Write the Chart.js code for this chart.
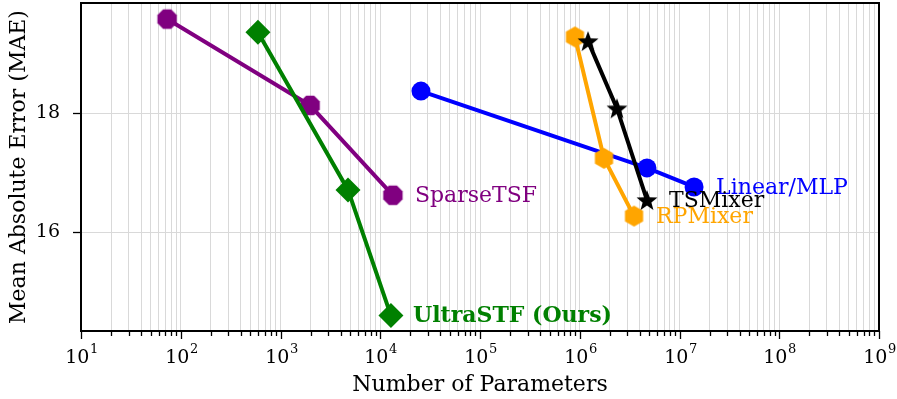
<!DOCTYPE html>
<html>
<head>
<meta charset="utf-8">
<script src="https://cdn.jsdelivr.net/npm/chart.js@4.4.0/dist/chart.umd.min.js"></script>
<style>
html, body { margin: 0; padding: 0; background: #fff; }
#wrap { width: 897px; height: 399px; }
</style>
</head>
<body>
<div id="wrap"><canvas id="chart"></canvas></div>
<script>
// values (x = number of parameters, y = MAE)
var sparseParams = [73, 1980, 13400];
var sparseMae = [19.58, 18.13, 16.62];
var ultraParams = [594, 4750, 12800];
var ultraMae = [19.36, 16.71, 14.60];
var linearParams = [25600, 4.72e6, 1.40e7];
var linearMae = [18.37, 17.08, 16.76];
var rpParams = [8.95e5, 1.75e6, 3.5e6];
var rpMae = [19.28, 17.24, 16.27];
var tsParams = [1.21e6, 2.36e6, 4.72e6];
var tsMae = [19.21, 18.08, 16.54];

var seriesNames = ['SparseTSF', 'UltraSTF (Ours)', 'Linear/MLP', 'RPMixer', 'TSMixer'];
var xTickExps = [1, 2, 3, 4, 5, 6, 7, 8, 9];
var yTicks = [16, 18];

var FONT = "'DejaVu Serif', serif";

function toPoints(xs, ys) {
    return xs.map(function(x, i) { return { x: x, y: ys[i] }; });
}

// polygon markers drawn on a small canvas
function polyMarker(sides, r, color, startAngle) {
    var c = document.createElement('canvas');
    c.width = c.height = Math.ceil(r * 2 + 2);
    var g = c.getContext('2d');
    var cx = c.width / 2;
    g.beginPath();
    for (var k = 0; k < sides; k++) {
        var a = startAngle + k * 2 * Math.PI / sides;
        g.lineTo(cx + r * Math.cos(a), cx + r * Math.sin(a));
    }
    g.closePath();
    g.fillStyle = color;
    g.fill();
    return c;
}

function starMarker(r, color) {
    var c = document.createElement('canvas');
    c.width = c.height = Math.ceil(r * 2 + 2);
    var g = c.getContext('2d');
    var cx = c.width / 2;
    g.beginPath();
    for (var k = 0; k < 10; k++) {
        var a = -Math.PI / 2 + k * Math.PI / 5;
        var rr = k % 2 === 0 ? r : r * 0.42;
        g.lineTo(cx + rr * Math.cos(a), cx + 1 + rr * Math.sin(a));
    }
    g.closePath();
    g.fillStyle = color;
    g.fill();
    return c;
}

var octagon = polyMarker(8, 10.5, 'purple', Math.PI / 8);
var hexagon = polyMarker(6, 10.5, 'orange', -Math.PI / 2);
var star = starMarker(11, 'black');

var xAllTicks = [];
xTickExps.forEach(function(e) {
    if (e === 9) { xAllTicks.push({ value: Math.pow(10, e), major: true }); return; }
    for (var m = 1; m < 10; m++) {
        xAllTicks.push({ value: m * Math.pow(10, e), major: m === 1 });
    }
});

function ds(label, xs, ys, color, style, radius, order) {
    return {
        label: label,
        data: toPoints(xs, ys),
        borderColor: color,
        backgroundColor: color,
        borderWidth: 4,
        pointStyle: style,
        pointRadius: radius,
        pointHoverRadius: radius,
        pointBorderWidth: 0,
        order: order
    };
}

var labelColors = ['purple', 'green', 'blue', 'orange', 'black'];

var framePlugin = {
    id: 'frame',
    afterDatasetsDraw: function(chart) {
        var ctx = chart.ctx;
        ctx.save();
        ctx.textBaseline = 'middle';
        ctx.textAlign = 'left';
        chart.data.datasets.forEach(function(d, i) {
            var last = d.data[d.data.length - 1];
            var px = chart.scales.x.getPixelForValue(last.x);
            var py = chart.scales.y.getPixelForValue(last.y);
            ctx.font = (d.label.indexOf('Ours') >= 0 ? 'bold ' : '') + '22px ' + FONT;
            ctx.fillStyle = labelColors[i];
            ctx.fillText(d.label, px + 22, py + 1);
        });
        ctx.restore();
    },
    afterDraw: function(chart) {
        var ctx = chart.ctx, a = chart.chartArea;
        var xs = chart.scales.x, ys = chart.scales.y;
        ctx.save();
        ctx.strokeStyle = 'black';
        ctx.fillStyle = 'black';
        ctx.lineWidth = 1.3;
        xs.ticks.forEach(function(t) {
            var p = Math.round(xs.getPixelForValue(t.value)) + 0.5;
            ctx.beginPath();
            ctx.moveTo(p, a.bottom);
            ctx.lineTo(p, a.bottom + (t.major ? 8 : 5));
            ctx.stroke();
            if (t.major) {
                // "10" with raised exponent
                var e = String(Math.round(Math.log10(t.value)));
                ctx.font = '19px ' + FONT;
                var wBase = ctx.measureText('10').width;
                ctx.font = '13px ' + FONT;
                var wExp = ctx.measureText(e).width;
                var x0 = p - (wBase + wExp) / 2;
                ctx.textAlign = 'left';
                ctx.textBaseline = 'alphabetic';
                ctx.font = '19px ' + FONT;
                ctx.fillText('10', x0, a.bottom + 32);
                ctx.font = '13px ' + FONT;
                ctx.fillText(e, x0 + wBase + 0.5, a.bottom + 22);
            }
        });
        ys.ticks.forEach(function(t) {
            var p = Math.round(ys.getPixelForValue(t.value)) + 0.5;
            ctx.beginPath();
            ctx.moveTo(a.left, p);
            ctx.lineTo(a.left - 8, p);
            ctx.stroke();
        });
        ctx.lineWidth = 2;
        ctx.strokeRect(a.left, a.top, a.right - a.left, a.bottom - a.top);
        ctx.restore();
    }
};

new Chart(document.getElementById('chart'), {
    type: 'line',
    data: {
        datasets: [
            ds(seriesNames[0], sparseParams, sparseMae, 'purple', octagon, 10, 5),
            ds(seriesNames[1], ultraParams, ultraMae, 'green', 'rectRot', 12.5, 4),
            ds(seriesNames[2], linearParams, linearMae, 'blue', 'circle', 9.5, 3),
            ds(seriesNames[3], rpParams, rpMae, 'orange', hexagon, 10, 2),
            ds(seriesNames[4], tsParams, tsMae, 'black', star, 10, 1)
        ]
    },
    options: {
        responsive: true,
        maintainAspectRatio: false,
        animation: false,
        layout: { autoPadding: false, padding: { top: 3, right: 18, left: 0, bottom: 0 } },
        plugins: {
            legend: { display: false },
            tooltip: { enabled: false }
        },
        scales: {
            x: {
                type: 'logarithmic',
                min: 10,
                max: 1e9,
                afterBuildTicks: function(s) { s.ticks = xAllTicks.map(function(t) { return { value: t.value, major: t.major }; }); },
                afterFit: function(s) { s.height = 68; s.paddingLeft = 0; s.paddingRight = 0; },
                grid: { color: '#d9d9d9', lineWidth: 1, drawTicks: false },
                border: { display: false },
                ticks: {
                    display: false,
                    autoSkip: false,
                    maxRotation: 0
                },
                title: {
                    display: true,
                    text: 'Number of Parameters',
                    color: 'black',
                    font: { family: FONT, size: 22 },
                    padding: { top: 0, bottom: 1 }
                }
            },
            y: {
                min: 14.34,
                max: 19.85,
                afterBuildTicks: function(s) { s.ticks = yTicks.map(function(v) { return { value: v }; }); },
                afterFit: function(s) { s.width = 81; s.paddingTop = 0; s.paddingBottom = 0; },
                grid: { color: '#d9d9d9', lineWidth: 1, drawTicks: false },
                border: { display: false },
                ticks: {
                    padding: 21,
                    color: 'black',
                    font: { family: FONT, size: 19 }
                },
                title: {
                    display: true,
                    text: 'Mean Absolute Error (MAE)',
                    color: 'black',
                    font: { family: FONT, size: 22 },
                    padding: { top: 6, bottom: 0 }
                }
            }
        }
    },
    plugins: [framePlugin]
});
</script>
</body>
</html>
